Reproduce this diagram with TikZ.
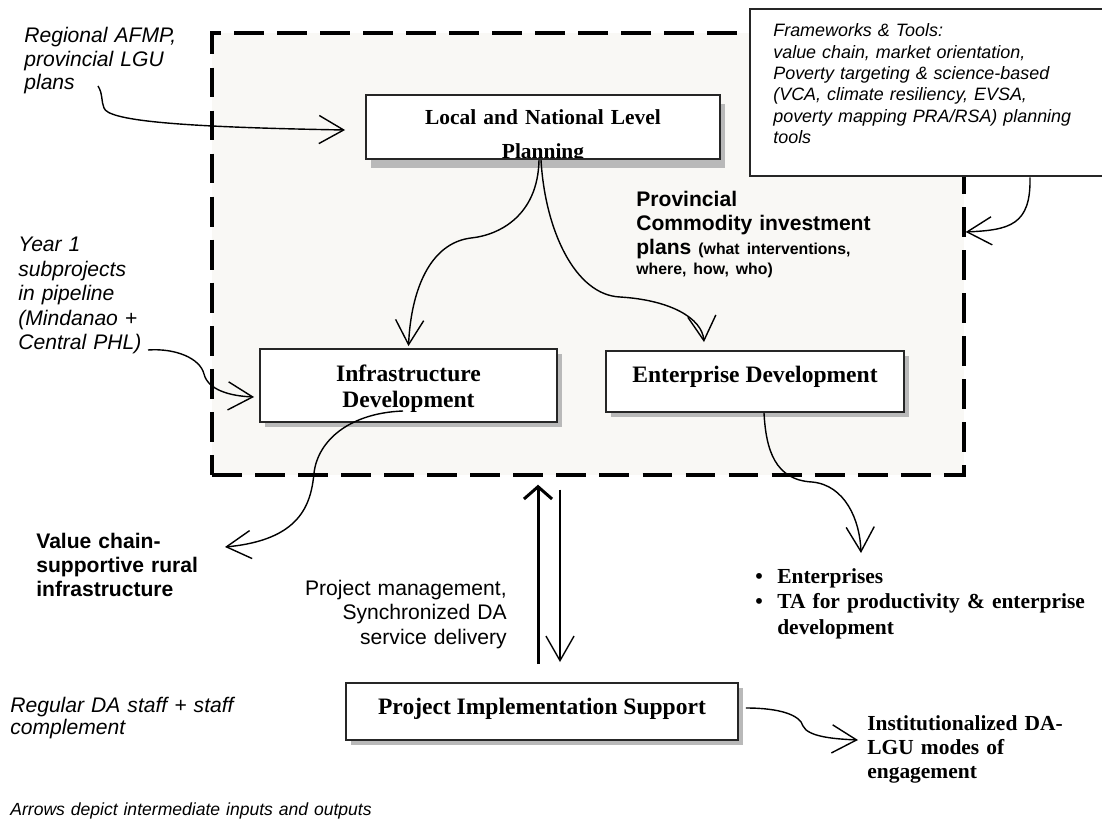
\documentclass[tikz,border=0pt]{standalone}
\usepackage{fontspec}
\setmainfont{Liberation Serif}
\setsansfont{Liberation Sans}
\usetikzlibrary{arrows.meta,calc,shadows}
\definecolor{areafill}{RGB}{249,248,245}
\definecolor{shadowgray}{RGB}{185,185,185}

\begin{document}
\begin{tikzpicture}[x=0.02cm, y=-0.02cm,
    zonebox/.style={draw=black, line width=2pt, dash pattern=on 17pt off 7.5pt, fill=areafill},
    box/.style={draw=black!85, line width=1.1pt, fill=white, inner sep=0pt, align=center,
        font=\bfseries\fontsize{13.4}{14.7}\selectfont,
        drop shadow={shadow xshift=2.8pt, shadow yshift=-#1, fill=shadowgray, opacity=1}},
    box/.default=2.8pt,
    fwbox/.style={draw=black!85, line width=1.5pt, fill=white},
    note/.style={inner sep=0pt, anchor=base west, align=left, text width=9cm},
    arr/.style={-{Straight Barb[length=14pt,width=16pt]}, line width=0.8pt},
    thickarr/.style={-{Straight Barb[length=7pt,width=16pt]}, line width=1.7pt}
]
\useasboundingbox (0,0) rectangle (1102,827);
\clip (0,0) rectangle (1102,827);

\node[zonebox, minimum width=15.04cm, minimum height=8.84cm] (zone) at (588,254) {};
\node[fwbox, minimum width=7.2cm, minimum height=3.34cm] (fw) at (930,92.5) {};
\node[note, font=\sffamily\itshape\fontsize{10.2}{12.1}\selectfont] (fwtext) at (773,37)
    {Frameworks \& Tools:\\value chain, market orientation,\\Poverty targeting \& science-based\\(VCA, climate resiliency, EVSA,\\poverty mapping PRA/RSA) planning\\tools};

\node[box=5pt, minimum width=7.08cm, minimum height=1.28cm] (plan) at (543,127) {};
\begin{scope}
\clip (plan.north west) rectangle ($(plan.south east)+(0,-2)$);
\node[inner sep=0pt, anchor=base, align=center, text width=7cm, font=\bfseries\fontsize{12.2}{13.8}\selectfont] (plantext) at (543,125)
    {Local and National Level\\[5.5pt]Planning};
\end{scope}
\node[box, minimum width=5.94cm, minimum height=1.46cm, text width=5.8cm, text height=9pt, text depth=13pt] (infra) at (408.5,385.5) {Infrastructure\\Development};
\node[box, minimum width=5.96cm, minimum height=1.22cm, text height=8pt, text depth=6.3pt] (ent) at (755,381.5) {Enterprise Development};
\node[box, minimum width=7.84cm, minimum height=1.14cm, text height=9pt, text depth=5.4pt] (pis) at (542,711.5) {Project Implementation Support};

\node[note, font=\sffamily\itshape\fontsize{12}{13.3}\selectfont] (regional) at (24,43) {Regional AFMP,\\provincial LGU\\plans};
\node[note, font=\sffamily\itshape\fontsize{12}{13.9}\selectfont] (yearone) at (18,252) {Year 1\\subprojects\\in pipeline\\(Mindanao +\\Central PHL)};
\node[note, font=\sffamily\bfseries\fontsize{12}{13.6}\selectfont] (prov) at (636,207)
    {Provincial\\Commodity investment\\plans {\fontsize{9}{10}\selectfont(what interventions,}\\[-2.3pt]{\fontsize{9}{10}\selectfont where, how, who)}};
\node[note, font=\sffamily\bfseries\fontsize{12}{13.9}\selectfont] (valuechain) at (36,548) {Value chain-\\supportive rural\\infrastructure};
\node[inner sep=0pt, anchor=base east, align=right, text width=6cm, font=\sffamily\fontsize{12}{14.1}\selectfont] (pm) at (507,595)
    {Project management,\\Synchronized DA\\service delivery};
\node[note, font=\sffamily\itshape\fontsize{12}{13}\selectfont] (regular) at (10,712) {Regular DA staff + staff\\complement};
\node[note, font=\sffamily\itshape\fontsize{10}{12}\selectfont] (caption) at (10,815) {Arrows depict intermediate inputs and outputs};
\node[note, font=\bfseries\fontsize{12.2}{14.6}\selectfont] (outputs) at (755,583)
    {\makebox[12.5pt][l]{\textbullet}Enterprises\\\makebox[12.5pt][l]{\textbullet}TA for productivity \& enterprise\\\hspace*{12.5pt}development};
\node[note, font=\bfseries\fontsize{12.2}{13.9}\selectfont] (inst) at (867,730) {Institutionalized DA-\\LGU modes of\\engagement};

\coordinate (regionalout) at (98,86);
\coordinate (yearoneout) at (148,350);
\coordinate (valuechainin) at (225,547);
\coordinate (outputsin) at (861,553);
\coordinate (instin) at (858,740);

\draw[arr] (regionalout) .. controls (103,94) and (101,101) .. (104,108) .. controls (108,120) and (170,127) .. ($(plan.west)+(-20,3)$);
\draw[arr] (yearoneout) .. controls (175,348) and (200,358) .. (204,374) .. controls (208,390) and (230,396) .. ($(infra.west)+(-5,11.5)$);
\draw[arr] ($(plan.south)+(-4,0)$) .. controls (538,215) and (500,235) .. (471,238) .. controls (430,243) and (411,290) .. ($(infra.north)+(0,-2)$);
\draw[arr] ($(plan.south)+(-2,0)$) .. controls (545,230) and (575,295) .. (620,297) .. controls (670,300) and (702,318) .. ($(ent.north)+(-51,-8)$);
\draw[arr] ($(fw.south)+(100,0)$) .. controls (1031,225) and (1010,230) .. ($(zone.east)+(0,-22)$);
\draw[arr] ($(infra.center)+(-5.5,25.5)$) .. controls (350,413) and (318,440) .. (314,473) .. controls (311,505) and (300,540) .. (valuechainin);
\draw[arr] ($(ent.south)+(9,0)$) .. controls (766,450) and (775,480) .. (812,482) .. controls (845,485) and (860,520) .. (outputsin);
\draw[arr] ($(pis.east)+(7,-3.5)$) .. controls (780,708) and (800,715) .. (803,726) .. controls (808,737) and (835,739) .. (instin);
\draw[thickarr] ($(pis.north)+(-4,-18)$) -- ($(zone.south)+(-50,8)$);
\draw[arr] ($(zone.south)+(-28,13)$) -- ($(pis.north)+(18,-20)$);
\end{tikzpicture}
\end{document}
